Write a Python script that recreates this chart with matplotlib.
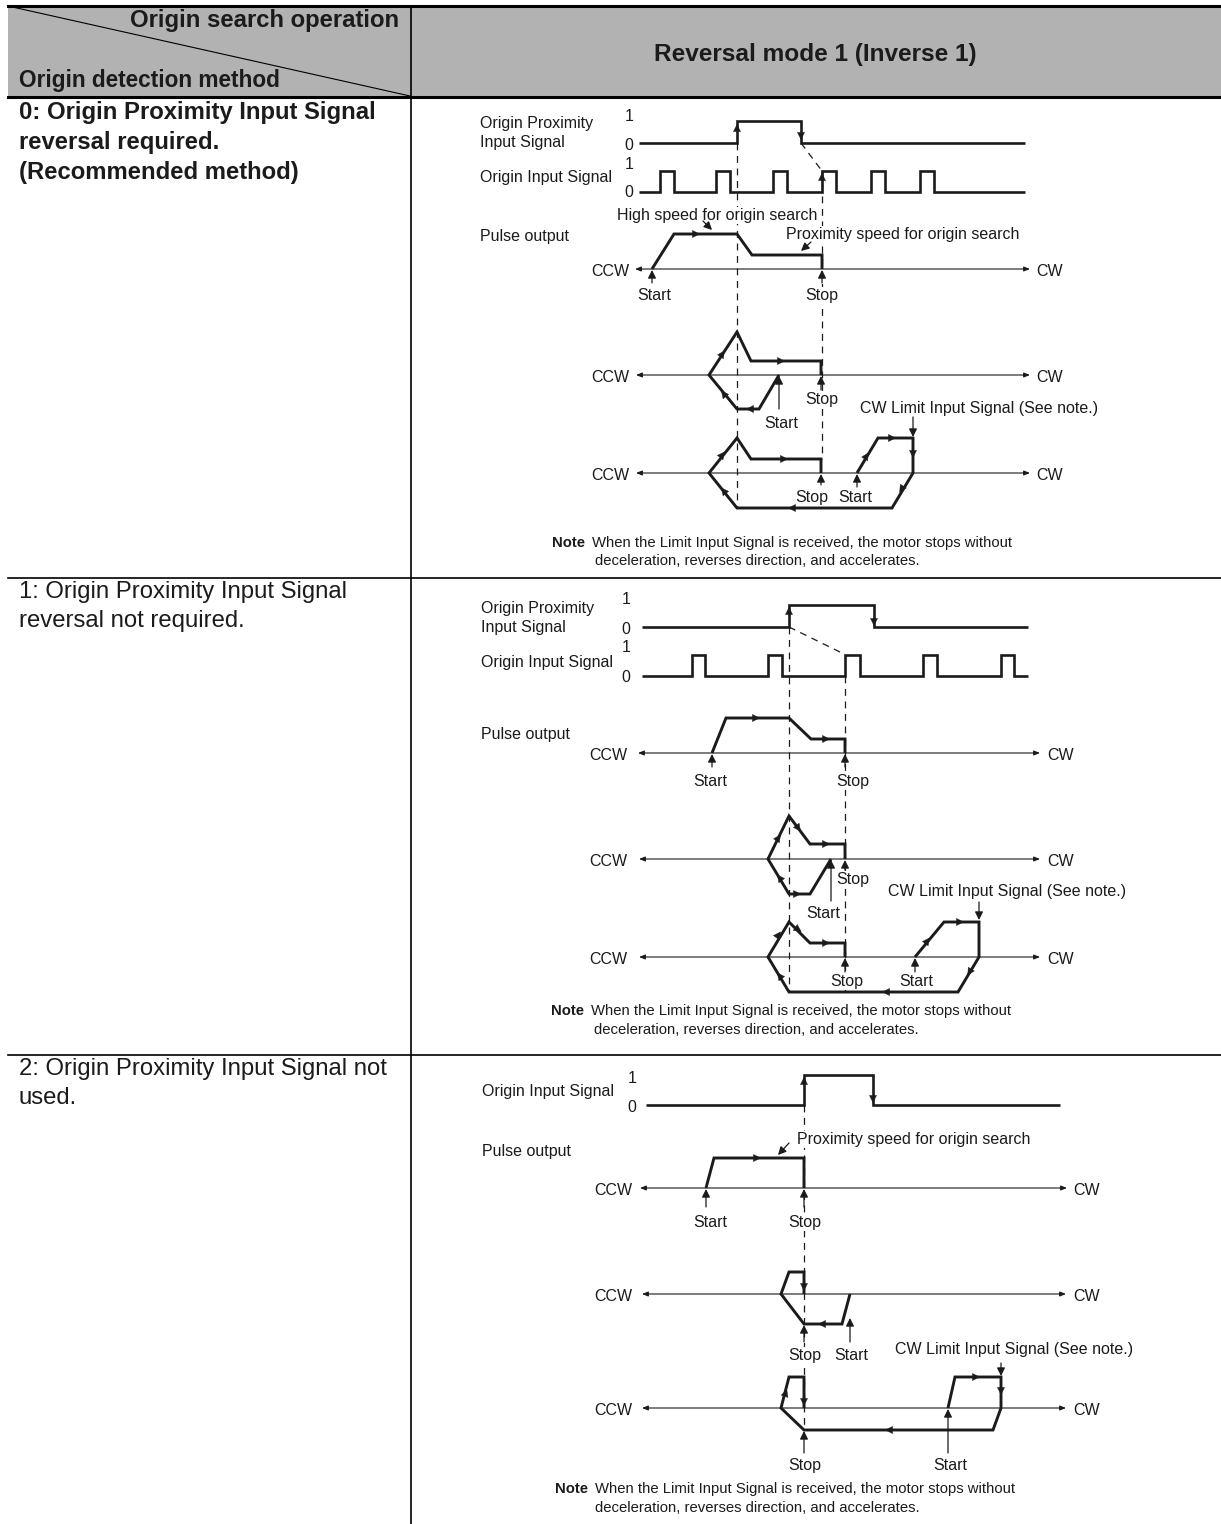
import matplotlib
matplotlib.use("Agg")
import matplotlib.pyplot as plt

plt.rcParams['font.family'] = ['Liberation Sans', 'DejaVu Sans']

W, H = 1221, 1524
INK = '#1c1a1a'
GRAY = '#b2b2b2'

# ================= table text =================
HEAD_RIGHT = 'Origin search operation'
HEAD_LEFT = 'Origin detection method'
HEAD_MAIN = 'Reversal mode 1 (Inverse 1)'
CELL_0 = ['0: Origin Proximity Input Signal', 'reversal required.', '(Recommended method)']
CELL_1 = ['1: Origin Proximity Input Signal', 'reversal not required.']
CELL_2 = ['2: Origin Proximity Input Signal not', 'used.']
NOTE_1 = 'When the Limit Input Signal is received, the motor stops without'
NOTE_2 = 'deceleration, reverses direction, and accelerates.'
LIMIT_TEXT = 'CW Limit Input Signal (See note.)'
PROX_TEXT = 'Proximity speed for origin search'
HIGH_TEXT = 'High speed for origin search'

# ================= signals (x, y) =================
SIG_1A = [(639, 143), (737, 143), (737, 121), (801, 121), (801, 143), (1025, 143)]
SIG_1B = [(639, 192), (660, 192), (660, 171), (674, 171), (674, 192), (716, 192), (716, 171), (730, 171),
          (730, 192), (773, 192), (773, 171), (787, 171), (787, 192), (822, 192), (822, 171), (836, 171),
          (836, 192), (871, 192), (871, 171), (885, 171), (885, 192), (920, 192), (920, 171), (934, 171),
          (934, 192), (1025, 192)]
SIG_2A = [(642, 627), (789, 627), (789, 605), (874, 605), (874, 627), (1028, 627)]
SIG_2B = [(642, 676), (692, 676), (692, 655), (705, 655), (705, 676), (768, 676), (768, 655), (782, 655),
          (782, 676), (845, 676), (845, 655), (860, 655), (860, 676), (923, 676), (923, 655), (937, 655),
          (937, 676), (1001, 676), (1001, 655), (1014, 655), (1014, 676), (1028, 676)]
SIG_3A = [(646, 1105), (804, 1105), (804, 1075), (873, 1075), (873, 1105), (1060, 1105)]

# ================= motion profiles =================
PROFILES = [
    [(652, 269), (674, 234), (737, 234), (752, 255), (822, 255), (822, 269)],
    [(821, 375), (821, 361), (751, 361), (737, 332), (709, 375), (737, 409), (759, 409), (779, 375)],
    [(821, 473), (821, 459), (751, 459), (737, 438), (709, 473), (737, 508), (892, 508), (913, 473),
     (913, 438), (878, 438), (857, 473)],
    [(712, 753), (726, 718), (789, 718), (811, 739), (845, 739), (845, 753)],
    [(845, 859), (845, 844), (810, 844), (789, 816), (768, 859), (789, 894), (810, 894), (831, 859)],
    [(845, 957), (845, 943), (810, 943), (789, 922), (768, 957), (789, 992), (958, 992), (979, 957),
     (979, 922), (944, 922), (915, 957)],
    [(706, 1188), (714, 1158), (804, 1158), (804, 1188)],
    [(804, 1294), (804, 1272), (789, 1272), (781, 1294), (804, 1324), (842, 1324), (850, 1294)],
    [(804, 1408), (804, 1377), (789, 1377), (781, 1408), (804, 1430), (993, 1430), (1001, 1408),
     (1001, 1377), (955, 1377), (948, 1408)],
]

# x from, x to, y of the CCW/CW axes
AXES_X0 = [635, 636, 636, 638, 639, 639, 640, 642, 642]
AXES_X1 = [1030, 1030, 1030, 1040, 1040, 1040, 1067, 1066, 1066]
AXES_Y = [269, 375, 473, 753, 859, 957, 1188, 1294, 1408]
CCW_RIGHT = [629, 629, 629, 627, 627, 627, 632, 632, 632]
CW_LEFT = [1036, 1036, 1036, 1047, 1047, 1047, 1073, 1073, 1073]

# head on a path: x, y, direction x, direction y
PATH_HEADS = [
    (737, 127, 0, -1), (801, 137, 0, 1), (822, 176, 0, -1), (697, 234, 1, 0),
    (723, 353, 2, -3), (782, 361, 1, 0), (723, 393, -4, -5), (749, 409, -1, 0),
    (723, 454, 4, -5), (785, 459, 1, 0), (723, 490, -4, -5), (791, 508, -1, 0),
    (901, 490, -3, 5), (913, 455, 0, 1), (867, 455, 3, -5), (893, 438, 1, 0),
    (789, 610, 0, -1), (874, 623, 0, 1), (757, 718, 1, 0), (827, 739, 1, 0),
    (779, 837, 2, -3), (799, 829, 3, 4), (827, 844, 1, 0), (779, 877, -3, -4), (798, 894, 1, 0),
    (779, 934, 3, -4), (799, 930, 3, 2), (827, 943, 1, 0), (779, 975, -3, -4), (885, 992, -1, 0),
    (969, 973, -3, 5), (928, 940, 3, -4), (961, 922, 1, 0),
    (804, 1080, 0, -1), (873, 1100, 0, 1), (758, 1158, 1, 0),
    (804, 1288, 0, 1), (821, 1324, -1, 0),
    (786, 1392, 1, -3), (804, 1403, 0, 1), (888, 1430, -1, 0), (977, 1377, 1, 0), (1001, 1392, 0, 1),
]

# pointer arrows: x from, y from, x to, y to
POINTERS = [
    (652, 283, 652, 270), (822, 283, 822, 270), (703, 221, 712, 230), (811, 242, 801, 251),
    (779, 409, 779, 376), (821, 390, 821, 376), (913, 417, 913, 437), (821, 485, 821, 474), (857, 487, 857, 474),
    (712, 767, 712, 754), (845, 767, 845, 754),
    (831, 901, 831, 860), (845, 870, 845, 860), (979, 902, 979, 920), (845, 972, 845, 958), (915, 972, 915, 958),
    (706, 1207, 706, 1189), (804, 1207, 804, 1189), (789, 1143, 778, 1155),
    (804, 1342, 804, 1325), (850, 1342, 850, 1318), (1001, 1363, 1001, 1376), (804, 1453, 804, 1431), (948, 1453, 948, 1409),
]

# dashed guides: x0, y0, x1, y1
GUIDES = [
    (737, 143, 737, 508), (822, 171, 822, 459), (801, 143, 822, 171),
    (789, 627, 789, 992), (845, 676, 845, 992), (789, 627, 842, 653),
    (804, 1105, 804, 1430),
]

# small labels: text, x centre, y centre
START_STOP = [
    ('Start', 654, 294), ('Stop', 822, 294), ('Stop', 822, 398), ('Start', 781, 422), ('Stop', 812, 496), ('Start', 855, 496),
    ('Start', 710, 780), ('Stop', 853, 780), ('Stop', 853, 878), ('Start', 823, 912), ('Stop', 847, 980), ('Start', 916, 980),
    ('Start', 710, 1221), ('Stop', 805, 1221), ('Stop', 805, 1354), ('Start', 851, 1354), ('Stop', 805, 1464), ('Start', 950, 1464),
]
NOTES_Y = [(543, 561), (1011, 1030), (1489, 1508)]
NOTES_X = [(552, 592, 595), (551, 591, 594), (555, 595, 595)]

# left captions: text, x, y
CAPTIONS = [
    ('Origin Proximity', 480, 122), ('Input Signal', 480, 141), ('Origin Input Signal', 480, 176), ('Pulse output', 480, 235),
    ('Origin Proximity', 481, 607), ('Input Signal', 481, 626), ('Origin Input Signal', 481, 661), ('Pulse output', 481, 733),
    ('Origin Input Signal', 482, 1090), ('Pulse output', 482, 1150),
]
LEVELS = [
    ('1', 629, 115), ('0', 629, 144), ('1', 629, 163), ('0', 629, 191),
    ('1', 626, 598), ('0', 626, 628), ('1', 626, 646), ('0', 626, 676),
    ('1', 632, 1077), ('0', 632, 1106),
]
LIMIT_LABELS = [(979, 407), (1007, 890), (1014, 1348)]
PROX_LABELS = [(903, 233), (914, 1138)]
HIGH_LABELS = [(717, 214)]


def polyline(ax, pts, lw=2.1):
    ax.plot([p[0] for p in pts], [p[1] for p in pts], color=INK, lw=lw, zorder=4,
            solid_joinstyle='miter', solid_capstyle='butt')


def head(ax, x, y, dx, dy):
    # 方向归一化后画一个很短的箭头，只留箭头头部
    n = (dx * dx + dy * dy) ** 0.5
    ax.annotate('', xy=(x + 3 * dx / n, y + 3 * dy / n), xytext=(x - 3 * dx / n, y - 3 * dy / n), zorder=5,
                arrowprops=dict(arrowstyle='-|>,head_length=0.6,head_width=0.3', mutation_scale=8.5, lw=0.3,
                                color=INK, shrinkA=0, shrinkB=0))


fig = plt.figure(figsize=(W / 100, H / 100), dpi=100)
ax = fig.add_axes([0, 0, 1, 1])
ax.set_xlim(0, W)
ax.set_ylim(H, 0)
ax.axis('off')

# ================= table frame =================
ax.fill_between([8, W], 6, 97, color=GRAY, lw=0, zorder=0)
ax.plot([8, W], [6, 6], color='black', lw=2.2, zorder=1)
ax.plot([8, W], [97, 97], color='black', lw=2.2, zorder=1)
ax.plot([8, W], [577.5, 577.5], color='black', lw=1.2, zorder=1)
ax.plot([8, W], [1054.5, 1054.5], color='black', lw=1.2, zorder=1)
ax.plot([411, 411], [6, H], color='black', lw=1.2, zorder=1)
ax.plot([8, 410], [6, 96], color='black', lw=0.8, zorder=1)

BIG = 17.2
ax.text(399, 21, HEAD_RIGHT, ha='right', va='center', fontsize=BIG, fontweight='bold', color=INK)
ax.text(19, 80, HEAD_LEFT, ha='left', va='center', fontsize=16.3, fontweight='bold', color=INK)
ax.text(815, 54, HEAD_MAIN, ha='center', va='center', fontsize=17.6, fontweight='bold', color=INK)
for line, y in zip(CELL_0, [113, 142, 172]):
    ax.text(19, y, line, ha='left', va='center', fontsize=BIG, fontweight='bold', color=INK)
for line, y in zip(CELL_1, [592, 621]):
    ax.text(19, y, line, ha='left', va='center', fontsize=BIG, color=INK)
for line, y in zip(CELL_2, [1069, 1098]):
    ax.text(19, y, line, ha='left', va='center', fontsize=BIG, color=INK)

# ================= diagrams =================
for x0, y0, x1, y1 in GUIDES:
    ax.plot([x0, x1], [y0, y1], color=INK, lw=0.9, dashes=(5.5, 4.5), zorder=2)

for x0, x1, y in zip(AXES_X0, AXES_X1, AXES_Y):
    ax.annotate('', xy=(x1, y), xytext=(x0, y), zorder=3,
                arrowprops=dict(arrowstyle='<|-|>,head_length=0.5,head_width=0.2', mutation_scale=7, lw=0.8,
                                color=INK, shrinkA=0, shrinkB=0))

for sig in [SIG_1A, SIG_1B, SIG_2A, SIG_2B, SIG_3A]:
    polyline(ax, sig, lw=1.9)
for prof in PROFILES:
    polyline(ax, prof)
for h in PATH_HEADS:
    head(ax, *h)
for x0, y0, x1, y1 in POINTERS:
    ax.annotate('', xy=(x1, y1), xytext=(x0, y0), zorder=5,
                arrowprops=dict(arrowstyle='-|>,head_length=0.6,head_width=0.3', mutation_scale=8, lw=0.9,
                                color=INK, shrinkA=0, shrinkB=0))

small = dict(fontsize=11.5, color=INK, va='center_baseline', zorder=3,
             bbox=dict(facecolor='white', edgecolor='none', pad=0.5))
for y, r, l in zip(AXES_Y, CCW_RIGHT, CW_LEFT):
    ax.text(r, y + 1, 'CCW', ha='right', **small)
    ax.text(l, y + 1, 'CW', ha='left', **small)
for text, x, y in START_STOP:
    ax.text(x, y, text, ha='center', **small)
for text, x, y in CAPTIONS + LEVELS:
    ax.text(x, y, text, ha='left' if len(text) > 1 else 'center', **small)
for x, y in LIMIT_LABELS:
    ax.text(x, y, LIMIT_TEXT, ha='center', **small)
for x, y in PROX_LABELS:
    ax.text(x, y, PROX_TEXT, ha='center', **small)
for x, y in HIGH_LABELS:
    ax.text(x, y, HIGH_TEXT, ha='center', **small)

for (y1, y2), (xn, x1, x2) in zip(NOTES_Y, NOTES_X):
    ax.text(xn, y1, 'Note', ha='left', va='center', fontsize=10.7, fontweight='bold', color=INK)
    ax.text(x1, y1, NOTE_1, ha='left', va='center', fontsize=10.7, color=INK)
    ax.text(x2, y2, NOTE_2, ha='left', va='center', fontsize=10.7, color=INK)

fig.savefig('out.png', dpi=100, facecolor='white')
